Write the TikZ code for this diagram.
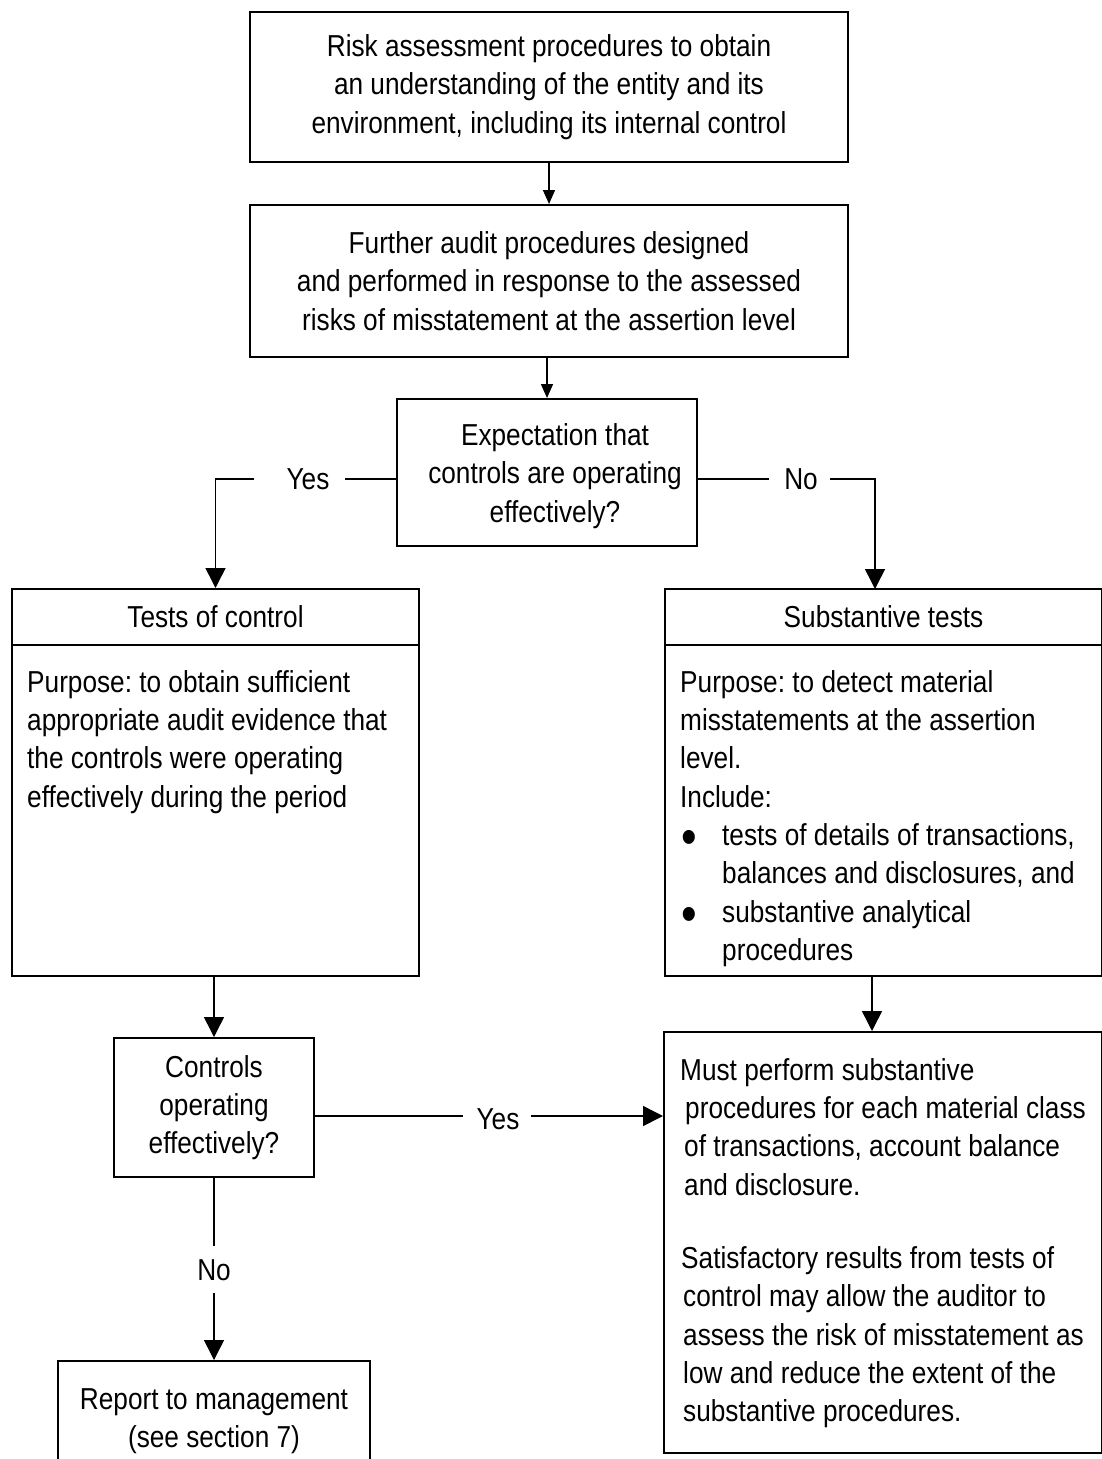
\documentclass[tikz,border=0pt]{standalone}
\usepackage{fontspec}
\setmainfont{Liberation Sans}[FakeStretch=0.865]
\usetikzlibrary{arrows.meta,calc}
\newcommand{\bigbul}{\hspace*{1pt}\makebox[41pt][l]{\raisebox{-9.5pt}{\scalebox{1.7}{•}}}}
\frenchspacing
\begin{document}
\begin{tikzpicture}[x=1pt,y=-1pt,
  every node/.style={font=\fontsize{30.3}{38.3}\selectfont\frenchspacing},
  box/.style={draw,line width=2pt,rectangle,inner sep=0pt,align=center},
  conn/.style={line width=1.5pt},
  arrS/.style={conn,-{Triangle[length=14pt,width=12pt]}},
  arrB/.style={conn,-{Triangle[length=20pt,width=20pt]}},
  txt/.style={inner sep=0pt,align=left,anchor=north west},
  lbl/.style={inner sep=0pt}
]
\useasboundingbox (0,0) rectangle (1101,1459);
\fill[white] (0,0) rectangle (1101,1459);

% top boxes
\node[box,minimum width=598pt,minimum height=150pt] (risk) at (549,87)
  {Risk assessment procedures to obtain\\an understanding of the entity and its\\environment, including its internal control};
\node[box,minimum width=598pt,minimum height=152pt] (further) at (549,281)
  {Further audit procedures designed\\and performed in response to the assessed\\risks of misstatement at the assertion level};
\node[box,minimum width=300pt,minimum height=147pt] (expect) at (547,472.5) {};
\node[lbl,align=center] (expecttxt) at (555,476) {Expectation that\\controls are operating\\effectively?};

% tests of control
\node[box,minimum width=407pt,minimum height=56pt] (testshead) at (215.5,617) {Tests of control};
\node[box,minimum width=407pt,minimum height=331pt] (testsbody) at (215.5,810.5) {};
\node[txt] (teststxt) at (27,667) {\rule{0pt}{25pt}Purpose: to obtain sufficient\\appropriate audit evidence that\\the controls were operating\\effectively during the period};

% substantive tests
\node[box,minimum width=437pt,minimum height=56pt] (subhead) at (883.5,617) {Substantive tests};
\node[box,minimum width=437pt,minimum height=331pt] (subbody) at (883.5,810.5) {};
\node[txt] (subtxt) at (680,667) {\rule{0pt}{25pt}Purpose: to detect material\\misstatements at the assertion\\level.\\Include:\\\bigbul tests of details of transactions,\\\hspace*{42pt}balances and disclosures, and\\\bigbul substantive analytical\\\hspace*{42pt}procedures};

% controls operating effectively
\node[box,minimum width=200pt,minimum height=139pt] (controls) at (214,1107.5) {Controls\\operating\\effectively?};

% must perform
\node[box,minimum width=438pt,minimum height=421pt] (must) at (883,1242.5) {};
\node[txt] (musttxt) at (680,1055) {\rule{0pt}{25pt}Must perform substantive\\\hspace*{5pt}procedures for each material class\\\hspace*{4pt}of transactions, account balance\\\hspace*{4pt}and disclosure.\\[35pt]\hspace*{1pt}Satisfactory results from tests of\\\hspace*{3pt}control may allow the auditor to\\\hspace*{3pt}assess the risk of misstatement as\\\hspace*{3pt}low and reduce the extent of the\\\hspace*{3pt}substantive procedures.};

% report
\node[box,minimum width=312pt,minimum height=120pt] (report) at (214,1421) {Report to management\\(see section 7)};

% connectors
\draw[arrS] (risk.south) -- (further.north);
\draw[arrS] (further.south -| expect.north) -- (expect.north);

\coordinate (yesA) at (345,479);
\coordinate (yesB) at (254,479);
\node[lbl] (yes1) at (308,479) {Yes};
\draw[conn] (expect.west |- yesA) -- (yesA);
\draw[arrB] (yesB) -| (testshead.north);

\coordinate (noA) at (769,479);
\coordinate (noB) at (830,479);
\coordinate (noD) at (875,589);
\node[lbl] (no1) at (801,479) {No};
\draw[conn] (expect.east |- noA) -- (noA);
\draw[arrB] (noB) -| (noD);

\draw[arrB] (testsbody.south -| controls.north) -- (controls.north);

\coordinate (sm) at (872,976);
\draw[arrB] (sm) -- (sm |- must.north);

\coordinate (y2A) at (463,1116);
\coordinate (y2B) at (531,1116);
\node[lbl] (yes2) at (498,1119) {Yes};
\draw[conn] (controls.east |- y2A) -- (y2A);
\draw[arrB] (y2B) -- (must.west |- y2B);

\coordinate (nA) at (214,1246);
\coordinate (nB) at (214,1293);
\node[lbl] (no2) at (214,1270) {No};
\draw[conn] (controls.south) -- (nA);
\draw[arrB] (nB) -- (report.north);
\end{tikzpicture}
\end{document}
